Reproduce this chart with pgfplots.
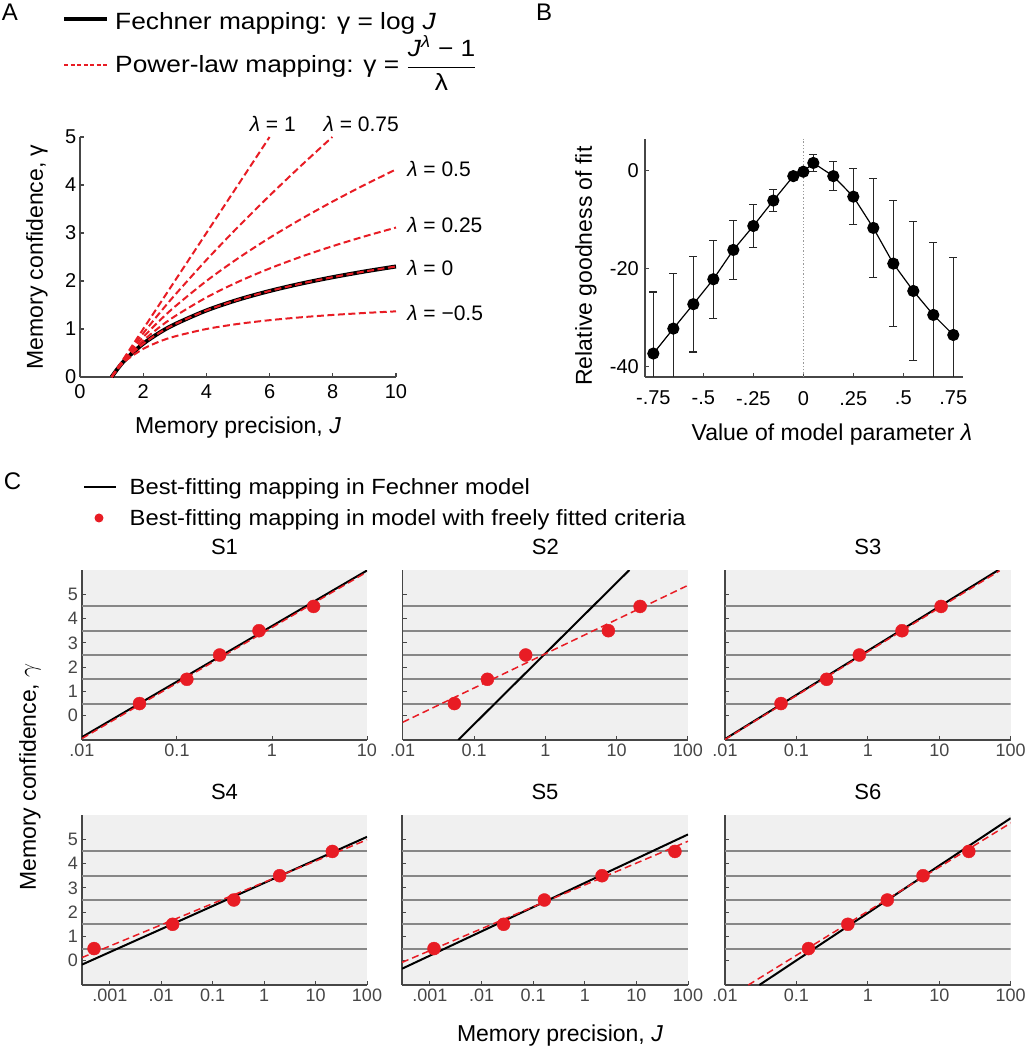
\documentclass[border=0pt]{standalone}
\usepackage{pgfplots}
\pgfplotsset{compat=1.18}
\usepackage{fontspec}
\setmainfont{Liberation Sans}
\definecolor{myred}{RGB}{232,28,36}
\definecolor{axgray}{RGB}{70,70,70}
\definecolor{bggray}{RGB}{240,240,240}
\definecolor{gridgray}{RGB}{135,135,135}
\newcommand{\fs}[1]{\fontsize{#1}{#1}\selectfont}
\pgfplotsset{
  blk/.style={black, line width=2pt},
  rdd/.style={myred, line width=1.5pt, dash pattern=on 7pt off 4pt},
  dots/.style={only marks, mark=*, mark size=6.5pt, mark options={fill=myred, draw=myred}},
  Ared/.style={myred, line width=2pt, dash pattern=on 7pt off 3.5pt, smooth},
  gl/.style={gridgray, line width=1.9pt, forget plot},
}
\begin{document}
\begin{tikzpicture}
\path[use as bounding box] (0pt,0pt) rectangle (1028pt,1050pt);
% panel letters
\node[anchor=base, font=\fs{24}, inner sep=0] at (10pt,1029.5pt) {A};
\node[anchor=base, font=\fs{24}, inner sep=0] at (544pt,1029.5pt) {B};
\node[anchor=base, font=\fs{24}, inner sep=0] at (12.5pt,560pt) {C};
% legend A
\draw[line width=4pt] (64pt,1031pt) -- (107pt,1031pt);
\node[anchor=base west, font=\fs{23.5}\addfontfeature{FakeStretch=1.12}, inner sep=0] at (115pt,1020.5pt) {Fechner mapping: γ = log \textit{J}};
\draw[myred, line width=1.8pt, dash pattern=on 4pt off 2.5pt] (64pt,985pt) -- (107pt,985pt);
\node[anchor=base west, font=\fs{23.5}\addfontfeature{FakeStretch=1.12}, inner sep=0] at (115pt,977pt) {Power-law mapping: γ = $\displaystyle\frac{\mbox{\textit{J}\textsuperscript{\textit{λ}} − 1}}{\mbox{λ}}$};
% legend C
\draw[line width=2pt] (84pt,563pt) -- (116pt,563pt);
\node[anchor=base west, font=\fs{22}\addfontfeature{FakeStretch=1.08}, inner sep=0] at (129.5pt,555pt) {Best-fitting mapping in Fechner model};
\fill[myred] (99pt,532pt) circle (4.5pt);
\node[anchor=base west, font=\fs{22}\addfontfeature{FakeStretch=1.08}, inner sep=0] at (129.5pt,524pt) {Best-fitting mapping in model with freely fitted criteria};
% C axis labels
\node[rotate=90, font=\fs{23}] at (30pt,273pt) {Memory confidence, $\gamma$};
\node[font=\fs{23}] at (560pt,14pt) {Memory precision, \textit{J}};

% ---------------- Panel A
\begin{axis}[at={(80pt,673pt)}, anchor=south west, scale only axis, width=316pt, height=240pt,
  xmin=0, xmax=10, ymin=0, ymax=5, axis x line*=bottom, axis y line*=left,
  axis line style={-, axgray, line width=1.3pt},
  tick align=inside, major tick length=4pt, tick style={axgray, line width=1.2pt},
  xtick={0,2,4,6,8,10}, xticklabels={0,2,4,6,8,10},
  ytick={0,1,2,3,4,5}, yticklabels={0,1,2,3,4,5},
  xticklabel style={font=\fs{20}, inner sep=0pt, yshift=-7.5pt},
  yticklabel style={font=\fs{20}, inner sep=0pt, xshift=-3.5pt},
  clip=false,
  xlabel={Memory precision, \textit{J}}, ylabel={Memory confidence, γ},
  label style={font=\fs{23}},
  xlabel style={at={(axis description cs:0.5,-0.2125)}, anchor=center},
  ylabel style={at={(axis description cs:-0.136,0.5)}, anchor=center},
]
\addplot[black, line width=4pt, smooth] coordinates {(1,0) (1.25,0.2231) (1.5,0.4055) (2,0.6931) (2.5,0.9163) (3,1.0986) (4,1.3863) (5,1.6094) (6,1.7918) (7,1.9459) (8,2.0794) (9,2.1972) (10,2.3026)};
\addplot[Ared] coordinates {(1,0) (6,5)};
\addplot[Ared] coordinates {(1,0) (1.25,0.2429) (1.5,0.4739) (2,0.9091) (2.5,1.3176) (3,1.7060) (4,2.4379) (5,3.1249) (6,3.7783) (7,4.4047) (7.984,5)};
\addplot[Ared] coordinates {(1,0) (1.25,0.2361) (1.5,0.4495) (2,0.8284) (2.5,1.1623) (3,1.4641) (4,2) (5,2.4721) (6,2.8990) (7,3.2915) (8,3.6569) (9,4) (10,4.3246)};
\addplot[Ared] coordinates {(1,0) (1.25,0.2297) (1.5,0.4267) (2,0.7568) (2.5,1.0297) (3,1.2643) (4,1.6569) (5,1.9814) (6,2.2603) (7,2.5065) (8,2.7272) (9,2.9282) (10,3.1131)};
\addplot[Ared] coordinates {(1,0) (1.25,0.2231) (1.5,0.4055) (2,0.6931) (2.5,0.9163) (3,1.0986) (4,1.3863) (5,1.6094) (6,1.7918) (7,1.9459) (8,2.0794) (9,2.1972) (10,2.3026)};
\addplot[Ared] coordinates {(1,0) (1.25,0.2111) (1.5,0.3670) (2,0.5858) (2.5,0.7351) (3,0.8453) (4,1) (5,1.1056) (6,1.1835) (7,1.2441) (8,1.2929) (9,1.3333) (10,1.3675)};
\node[font=\fs{21}] at (axis cs:6.1,5.27) {\textit{λ} = 1};
\node[font=\fs{21}] at (axis cs:8.9,5.27) {\textit{λ} = 0.75};
\node[font=\fs{21}, anchor=west, inner sep=0] at (axis cs:10.35,4.33) {\textit{λ} = 0.5};
\node[font=\fs{21}, anchor=west, inner sep=0] at (axis cs:10.35,3.17) {\textit{λ} = 0.25};
\node[font=\fs{21}, anchor=west, inner sep=0] at (axis cs:10.35,2.27) {\textit{λ} = 0};
\node[font=\fs{21}, anchor=west, inner sep=0] at (axis cs:10.35,1.33) {\textit{λ} = −0.5};
\end{axis}

% ---------------- Panel B
\begin{axis}[at={(645pt,673pt)}, anchor=south west, scale only axis, width=318pt, height=238pt,
  xmin=-0.7917, xmax=0.7985, ymin=-42.2, ymax=6.5, axis x line*=bottom, axis y line*=left,
  axis line style={-, axgray, line width=1.3pt},
  tick align=inside, major tick length=4pt, tick style={axgray, line width=1.2pt},
  xtick={-0.75,-0.5,-0.25,0,0.25,0.5,0.75}, xticklabels={-.75,-.5,-.25,0,.25,.5,.75},
  ytick={-40,-20,0}, yticklabels={-40,-20,0},
  xticklabel style={font=\fs{20}, inner sep=0pt, yshift=-14pt},
  yticklabel style={font=\fs{20}, inner sep=0pt, xshift=-6pt},
  xlabel={Value of model parameter \textit{λ}}, ylabel={Relative goodness of fit},
  label style={font=\fs{23}},
  xlabel style={at={(axis description cs:0.588,-0.2437)}, anchor=center},
  ylabel style={at={(axis description cs:-0.1855,0.466)}, anchor=center},
]
\addplot[gray!80, line width=1.3pt, dotted] coordinates {(0,-42.2) (0,6.5)};
\addplot[black, line width=1.2pt, mark=*, mark size=5.5pt, mark options={fill=black, solid},
  error bars/.cd, y dir=both, y explicit,
  error bar style={line width=1.2pt, black!85},
  error mark options={rotate=90, mark size=4pt, line width=1.2pt, black!85}]
  table[x=x, y=y, y error=e] {
x y e
-0.75 -37.4 12.6
-0.65 -32.3 11.2
-0.55 -27.3 9.8
-0.45 -22.2 8.0
-0.35 -16.2 6.1
-0.25 -11.3 4.4
-0.15 -6.1 2.3
-0.05 -1.1 0.4
0 -0.2 0
0.05 1.6 1.8
0.15 -1.1 3.0
0.25 -5.3 5.7
0.35 -11.7 10.1
0.45 -19.0 12.9
0.55 -24.6 14.2
0.65 -29.5 14.8
0.75 -33.6 15.8
};
\end{axis}

% ---------------- Panel C
\begin{axis}[anchor=south west, scale only axis, width=285pt, height=170pt,
    xmode=log, ymin=-1, ymax=6, axis x line*=bottom, axis y line*=left,
    axis line style={-, axgray, line width=1.2pt},
    axis background/.style={fill=bggray},
    tick align=inside, major tick length=4pt, xminorticks=false,
    tick style={axgray, line width=1pt},
    ytick={0,1,2,3,4,5},
    xticklabel style={font=\fs{18}, text=axgray, inner sep=0pt, yshift=-3.5pt},
    yticklabel style={font=\fs{18}, text=axgray, inner sep=0pt, xshift=-4pt},
    title style={font=\fs{22}, inner sep=0pt, anchor=base, yshift=9.5pt},
    at={(82pt,310pt)}, xmin=0.01, xmax=10, title={S1},
  xtick={0.01,0.1,1,10}, xticklabels={.01,0.1,1,10}, yticklabels={0,1,2,3,4,5}]
\addplot[gl] coordinates {(0.01,0.5) (10,0.5)};
\addplot[gl] coordinates {(0.01,1.5) (10,1.5)};
\addplot[gl] coordinates {(0.01,2.5) (10,2.5)};
\addplot[gl] coordinates {(0.01,3.5) (10,3.5)};
\addplot[gl] coordinates {(0.01,4.5) (10,4.5)};
\addplot[blk] coordinates {(0.01,-0.88) (10,5.98)};
\addplot[rdd] coordinates {(0.01,-0.94) (10,5.92)};
\addplot[dots] coordinates {(0.0403,0.5) (0.127,1.5) (0.281,2.5) (0.73,3.5) (2.74,4.5)};
\end{axis}
\begin{axis}[anchor=south west, scale only axis, width=285.3pt, height=170pt,
    xmode=log, ymin=-1, ymax=6, axis x line*=bottom, axis y line*=left,
    axis line style={-, axgray, line width=1.2pt},
    axis background/.style={fill=bggray},
    tick align=inside, major tick length=4pt, xminorticks=false,
    tick style={axgray, line width=1pt},
    ytick={0,1,2,3,4,5}, yticklabels={},
    xticklabel style={font=\fs{18}, text=axgray, inner sep=0pt, yshift=-3.5pt},
    title style={font=\fs{22}, inner sep=0pt, anchor=base, yshift=9.5pt},
    at={(402.7pt,310pt)}, xmin=0.01, xmax=100, title={S2},
  xtick={0.01,0.1,1,10,100}, xticklabels={.01,0.1,1,10,100}]
\addplot[gl] coordinates {(0.01,0.5) (100,0.5)};
\addplot[gl] coordinates {(0.01,1.5) (100,1.5)};
\addplot[gl] coordinates {(0.01,2.5) (100,2.5)};
\addplot[gl] coordinates {(0.01,3.5) (100,3.5)};
\addplot[gl] coordinates {(0.01,4.5) (100,4.5)};
\addplot[blk] coordinates {(0.060,-1) (15.07,6)};
\addplot[rdd] coordinates {(0.01,-0.27) (100,5.37)};
\addplot[dots] coordinates {(0.053,0.5) (0.154,1.5) (0.531,2.5) (7.65,3.5) (21.3,4.5)};
\end{axis}
\begin{axis}[anchor=south west, scale only axis, width=285.7pt, height=170pt,
    xmode=log, ymin=-1, ymax=6, axis x line*=bottom, axis y line*=left,
    axis line style={-, axgray, line width=1.2pt},
    axis background/.style={fill=bggray},
    tick align=inside, major tick length=4pt, xminorticks=false,
    tick style={axgray, line width=1pt},
    ytick={0,1,2,3,4,5}, yticklabels={},
    xticklabel style={font=\fs{18}, text=axgray, inner sep=0pt, yshift=-3.5pt},
    title style={font=\fs{22}, inner sep=0pt, anchor=base, yshift=9.5pt},
    at={(725pt,310pt)}, xmin=0.01, xmax=100, title={S3},
  xtick={0.01,0.1,1,10,100}, xticklabels={.01,0.1,1,10,100}]
\addplot[gl] coordinates {(0.01,0.5) (100,0.5)};
\addplot[gl] coordinates {(0.01,1.5) (100,1.5)};
\addplot[gl] coordinates {(0.01,2.5) (100,2.5)};
\addplot[gl] coordinates {(0.01,3.5) (100,3.5)};
\addplot[gl] coordinates {(0.01,4.5) (100,4.5)};
\addplot[blk] coordinates {(0.01,-0.96) (67.3,6.0)};
\addplot[rdd] coordinates {(0.01,-0.98) (70,5.97)};
\addplot[dots] coordinates {(0.0608,0.5) (0.265,1.5) (0.76,2.5) (3.01,3.5) (10.6,4.5)};
\end{axis}
\begin{axis}[anchor=south west, scale only axis, width=285pt, height=170pt,
    xmode=log, ymin=-1, ymax=6, axis x line*=bottom, axis y line*=left,
    axis line style={-, axgray, line width=1.2pt},
    axis background/.style={fill=bggray},
    tick align=inside, major tick length=4pt, xminorticks=false,
    tick style={axgray, line width=1pt},
    ytick={0,1,2,3,4,5},
    xticklabel style={font=\fs{18}, text=axgray, inner sep=0pt, yshift=-3.5pt},
    yticklabel style={font=\fs{18}, text=axgray, inner sep=0pt, xshift=-4pt},
    title style={font=\fs{22}, inner sep=0pt, anchor=base, yshift=9.5pt},
    at={(82pt,65pt)}, xmin=0.000288, xmax=100, title={S4},
  xtick={0.001,0.01,0.1,1,10,100}, xticklabels={.001,.01,0.1,1,10,100}, yticklabels={0,1,2,3,4,5}]
\addplot[gl] coordinates {(0.000288,0.5) (100,0.5)};
\addplot[gl] coordinates {(0.000288,1.5) (100,1.5)};
\addplot[gl] coordinates {(0.000288,2.5) (100,2.5)};
\addplot[gl] coordinates {(0.000288,3.5) (100,3.5)};
\addplot[gl] coordinates {(0.000288,4.5) (100,4.5)};
\addplot[blk] coordinates {(0.000288,-0.16) (100,5.1)};
\addplot[rdd] coordinates {(0.000288,0.13) (100,4.98)};
\addplot[dots] coordinates {(0.000494,0.5) (0.01667,1.5) (0.2576,2.5) (2.0,3.5) (21.2,4.5)};
\end{axis}
\begin{axis}[anchor=south west, scale only axis, width=286pt, height=170pt,
    xmode=log, ymin=-1, ymax=6, axis x line*=bottom, axis y line*=left,
    axis line style={-, axgray, line width=1.2pt},
    axis background/.style={fill=bggray},
    tick align=inside, major tick length=4pt, xminorticks=false,
    tick style={axgray, line width=1pt},
    ytick={0,1,2,3,4,5}, yticklabels={},
    xticklabel style={font=\fs{18}, text=axgray, inner sep=0pt, yshift=-3.5pt},
    title style={font=\fs{22}, inner sep=0pt, anchor=base, yshift=9.5pt},
    at={(402pt,65pt)}, xmin=0.000288, xmax=100, title={S5},
  xtick={0.001,0.01,0.1,1,10,100}, xticklabels={.001,.01,0.1,1,10,100}]
\addplot[gl] coordinates {(0.000288,0.5) (100,0.5)};
\addplot[gl] coordinates {(0.000288,1.5) (100,1.5)};
\addplot[gl] coordinates {(0.000288,2.5) (100,2.5)};
\addplot[gl] coordinates {(0.000288,3.5) (100,3.5)};
\addplot[gl] coordinates {(0.000288,4.5) (100,4.5)};
\addplot[blk] coordinates {(0.000288,-0.33) (100,5.2)};
\addplot[rdd] coordinates {(0.000288,-0.07) (100,4.92)};
\addplot[dots] coordinates {(0.0012,0.5) (0.0268,1.5) (0.165,2.5) (2.16,3.5) (55.8,4.5)};
\end{axis}
\begin{axis}[anchor=south west, scale only axis, width=285.7pt, height=170pt,
    xmode=log, ymin=-1, ymax=6, axis x line*=bottom, axis y line*=left,
    axis line style={-, axgray, line width=1.2pt},
    axis background/.style={fill=bggray},
    tick align=inside, major tick length=4pt, xminorticks=false,
    tick style={axgray, line width=1pt},
    ytick={0,1,2,3,4,5}, yticklabels={},
    xticklabel style={font=\fs{18}, text=axgray, inner sep=0pt, yshift=-3.5pt},
    title style={font=\fs{22}, inner sep=0pt, anchor=base, yshift=9.5pt},
    at={(725pt,65pt)}, xmin=0.01, xmax=100, title={S6},
  xtick={0.01,0.1,1,10,100}, xticklabels={.01,0.1,1,10,100}]
\addplot[gl] coordinates {(0.01,0.5) (100,0.5)};
\addplot[gl] coordinates {(0.01,1.5) (100,1.5)};
\addplot[gl] coordinates {(0.01,2.5) (100,2.5)};
\addplot[gl] coordinates {(0.01,3.5) (100,3.5)};
\addplot[gl] coordinates {(0.01,4.5) (100,4.5)};
\addplot[blk] coordinates {(0.0303,-1) (100,5.87)};
\addplot[rdd] coordinates {(0.0212,-1) (100,5.67)};
\addplot[dots] coordinates {(0.1476,0.5) (0.525,1.5) (1.87,2.5) (5.92,3.5) (25.9,4.5)};
\end{axis}
\end{tikzpicture}
\end{document}
